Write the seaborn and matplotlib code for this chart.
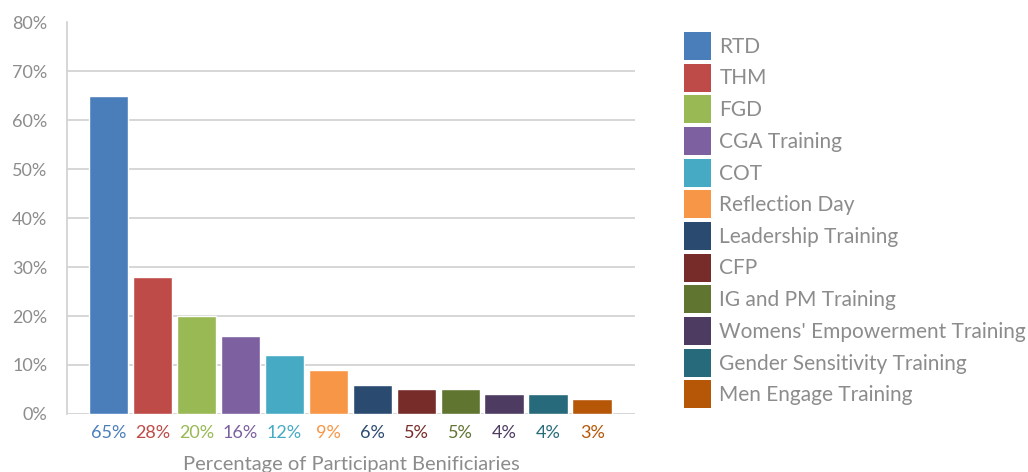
import matplotlib
matplotlib.use("Agg")
import matplotlib.pyplot as plt
from matplotlib.patches import Patch
import seaborn as sns
import pandas as pd

# data
activities = ["RTD", "THM", "FGD", "CGA Training", "COT", "Reflection Day",
              "Leadership Training", "CFP", "IG and PM Training",
              "Womens' Empowerment Training", "Gender Sensitivity Training",
              "Men Engage Training"]
percent = [65, 28, 20, 16, 12, 9, 6, 5, 5, 4, 4, 3]
tick_labels = ["65%", "28%", "20%", "16%", "12%", "9%", "6%", "5%", "5%", "4%", "4%", "3%"]
colors = ["#4a7ebb", "#be4b48", "#98b954", "#7d60a0", "#46aac5", "#f79646",
          "#2a4a70", "#772c2a", "#5f7530", "#4d3b62", "#276a7c", "#b65708"]

df = pd.DataFrame({"activity": activities, "percent": percent})

sns.set_style("white")
plt.rcParams["font.family"] = ["Lato", "DejaVu Sans"]
text_grey = "#8c8c8c"

fig = plt.figure(figsize=(10.28, 4.72), dpi=100)
ax = fig.add_axes([0.065, 0.123, 0.553, 0.830])

sns.barplot(data=df, x="activity", y="percent", hue="activity",
            palette=colors, width=0.9, legend=False, ax=ax, saturation=1)

ax.set_ylim(0, 80)
ax.set_xlim(-0.95, 11.98)
ax.set_yticks(range(0, 90, 10))
ax.set_yticklabels([f"{v}%" for v in range(0, 90, 10)], color=text_grey, fontsize=13)
for v in range(0, 80, 10):
    ax.axhline(v, color="#d0d0d0", lw=1.2, zorder=0)

ax.set_xticks(range(len(activities)))
ax.set_xticklabels(tick_labels, fontsize=13)
for lab, c in zip(ax.get_xticklabels(), colors):
    lab.set_color(c)
ax.tick_params(axis="both", length=0)
ax.tick_params(axis="x", pad=8)
ax.tick_params(axis="y", pad=14)

ax.set_xlabel("Percentage of Participant Benificiaries", color=text_grey,
              fontsize=14.5, labelpad=11)
ax.set_ylabel("")

for side in ["top", "right", "bottom"]:
    ax.spines[side].set_visible(False)
ax.spines["left"].set_color("#d0d0d0")
ax.spines["left"].set_linewidth(1.2)

handles = [Patch(facecolor=c, edgecolor="none") for c in colors]
leg = fig.legend(handles, activities, loc="upper left",
                 bbox_to_anchor=(684 / 1028, 1 - 32 / 472),
                 frameon=False, fontsize=15, handlelength=1.3, handleheight=1.7,
                 labelspacing=0.17, handletextpad=0.4, borderpad=0, borderaxespad=0)
for t in leg.get_texts():
    t.set_color(text_grey)

plt.savefig("out.png", dpi=100)
